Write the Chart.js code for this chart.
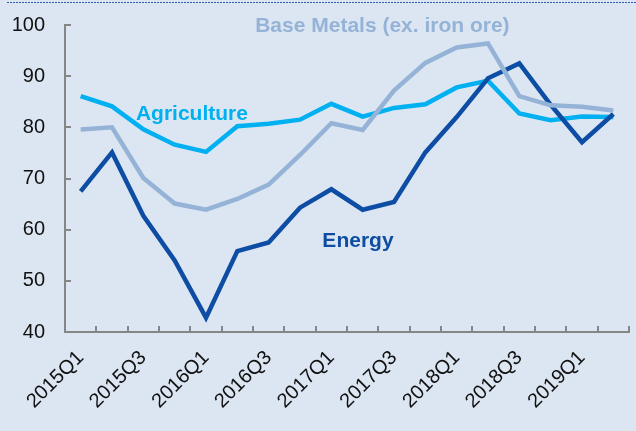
<!DOCTYPE html>
<html>
<head>
<meta charset="utf-8">
<script src="https://cdn.jsdelivr.net/npm/chart.js@4/dist/chart.umd.min.js"></script>
<style>
  html, body { margin: 0; padding: 0; background: #dce6f2; }
  #wrap { width: 636px; height: 431px; position: relative; }
</style>
</head>
<body>
<div id="wrap"><canvas id="chart" width="636" height="431"></canvas></div>
<script>
// quarters on the x axis
const quarters = ['2015Q1', '2015Q2', '2015Q3', '2015Q4', '2016Q1', '2016Q2', '2016Q3', '2016Q4',
  '2017Q1', '2017Q2', '2017Q3', '2017Q4', '2018Q1', '2018Q2', '2018Q3', '2018Q4', '2019Q1', '2019Q2'];

// index values
const agriculture = [86.1, 84.1, 79.6, 76.6, 75.2, 80.2, 80.7, 81.5, 84.6, 82.1, 83.8, 84.5, 87.8, 89.1, 82.7, 81.4, 82.1, 82.0];
const baseMetals = [79.6, 80.0, 70.1, 65.1, 63.9, 66.0, 68.8, 74.6, 80.8, 79.5, 87.2, 92.6, 95.6, 96.4, 86.1, 84.3, 84.0, 83.3];
const energy = [67.5, 75.1, 62.7, 54.0, 42.8, 55.8, 57.5, 64.3, 67.9, 63.9, 65.4, 75.1, 82.0, 89.6, 92.5, 84.4, 77.1, 82.6];

const yTicks = [40, 50, 60, 70, 80, 90, 100];

// inline series names, anchored at [category index, value]
const seriesLabels = [
  { text: 'Base Metals (ex. iron ore)', at: [9.63, 98.6], color: '#95b3d7' },
  { text: 'Agriculture', at: [3.55, 81.5], color: '#00b0f0' },
  { text: 'Energy', at: [8.85, 56.6], color: '#0e4da4' }
];

const FONT = '"Liberation Sans", Arial, sans-serif';
const AXIS = '#868686';

// inward tick marks + series names + the dotted line at the top
const decorations = {
  id: 'decorations',
  afterDraw(chart) {
    const ctx = chart.ctx;
    const x = chart.scales.x;
    const y = chart.scales.y;
    const area = chart.chartArea;

    ctx.save();
    ctx.strokeStyle = AXIS;
    ctx.lineWidth = 2;
    ctx.beginPath();
    const step = x.getPixelForValue(1) - x.getPixelForValue(0);
    for (let i = 0; i <= quarters.length; i++) {
      const px = Math.round(x.getPixelForValue(i) - step / 2);
      ctx.moveTo(px, area.bottom);
      ctx.lineTo(px, area.bottom - 6);
    }
    yTicks.forEach(v => {
      const py = Math.round(y.getPixelForValue(v));
      ctx.moveTo(area.left, py);
      ctx.lineTo(area.left + 6, py);
    });
    ctx.stroke();

    ctx.font = 'bold 21px ' + FONT;
    ctx.textAlign = 'center';
    ctx.textBaseline = 'alphabetic';
    seriesLabels.forEach(l => {
      ctx.fillStyle = l.color;
      ctx.fillText(l.text, x.getPixelForValue(l.at[0]), y.getPixelForValue(l.at[1]));
    });

    ctx.strokeStyle = '#2f5fb3';
    ctx.lineWidth = 1;
    ctx.setLineDash([2, 1]);
    ctx.beginPath();
    ctx.moveTo(7, 2.5);
    ctx.lineTo(chart.width, 2.5);
    ctx.stroke();
    ctx.restore();
  }
};

const ctx = document.getElementById('chart').getContext('2d');
new Chart(ctx, {
  type: 'line',
  data: {
    labels: quarters,
    datasets: [
      { label: 'Agriculture', data: agriculture, borderColor: '#00b0f0', order: 2 },
      { label: 'Base Metals (ex. iron ore)', data: baseMetals, borderColor: '#95b3d7', order: 0 },
      { label: 'Energy', data: energy, borderColor: '#0e4da4', order: 1 }
    ]
  },
  options: {
    responsive: false,
    animation: false,
    layout: { padding: { top: 25, right: 7, left: 0, bottom: 0 } },
    elements: {
      line: { borderWidth: 4.5, tension: 0, borderJoinStyle: 'miter', borderCapStyle: 'butt' },
      point: { radius: 0 }
    },
    plugins: {
      legend: { display: false },
      tooltip: { enabled: false }
    },
    scales: {
      x: {
        offset: true,
        grid: { display: false, drawTicks: false },
        border: { display: true, color: AXIS, width: 2 },
        ticks: {
          autoSkip: false,
          maxRotation: 45,
          minRotation: 45,
          padding: 14,
          color: '#111',
          font: { family: FONT, size: 20 },
          callback: (val, i) => (i % 2 === 0 ? quarters[i] : '')
        },
        afterFit: scale => {
          scale.height = 99;
          scale.paddingLeft = 0;
          scale.paddingRight = 0;
        }
      },
      y: {
        min: 40,
        max: 100,
        afterBuildTicks: scale => { scale.ticks = yTicks.map(v => ({ value: v })); },
        grid: { display: false, drawTicks: false },
        border: { display: true, color: AXIS, width: 2 },
        ticks: {
          padding: 20,
          color: '#111',
          font: { family: FONT, size: 20 }
        },
        afterFit: scale => {
          scale.width = 65;
          scale.paddingTop = 0;
          scale.paddingBottom = 0;
        }
      }
    }
  },
  plugins: [decorations]
});
</script>
</body>
</html>
